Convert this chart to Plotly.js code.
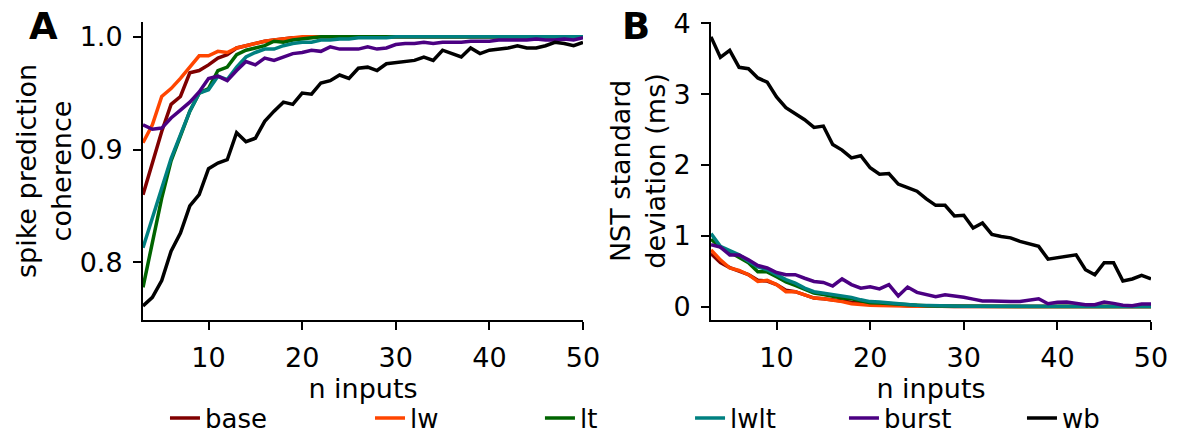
<!DOCTYPE html>
<html>
<head>
<meta charset="utf-8">
<script src="https://cdn.plot.ly/plotly-3.0.1.min.js"></script>
<style>html,body{margin:0;padding:0;background:#fff;}#chart{width:1183px;height:436px;}</style>
</head>
<body>
<div id="chart"></div>
<script>
// ---- data ----
const nInputs = [3,4,5,6,7,8,9,10,11,12,13,14,15,16,17,18,19,20,21,22,23,24,25,26,27,28,29,30,31,32,33,34,35,36,37,38,39,40,41,42,43,44,45,46,47,48,49,50];

const seriesNames = ["base","lw","lt","lwlt","burst","wb"];
const seriesColors = ["#800000","#ff4500","#006400","#008080","#4b0082","#000000"];

// Panel A: spike prediction coherence
const cohBase  = [0.860,0.887,0.916,0.940,0.947,0.968,0.970,0.975,0.981,0.984,0.990,0.992,0.994,0.996,0.997,0.998,0.999,0.999,1.0,1.0,1.0,1.0,1.0,1.0,1.0,1.0,1.0,1.0,1.0,1.0,1.0,1.0,1.0,1.0,1.0,1.0,1.0,1.0,1.0,1.0,1.0,1.0,1.0,1.0,1.0,1.0,1.0,1.0];
const cohLw    = [0.906,0.922,0.947,0.954,0.963,0.973,0.983,0.983,0.987,0.986,0.990,0.992,0.994,0.996,0.997,0.998,0.999,1.0,1.0,1.0,1.0,1.0,1.0,1.0,1.0,1.0,1.0,1.0,1.0,1.0,1.0,1.0,1.0,1.0,1.0,1.0,1.0,1.0,1.0,1.0,1.0,1.0,1.0,1.0,1.0,1.0,1.0,1.0];
const cohLt    = [0.778,0.816,0.857,0.890,0.913,0.934,0.950,0.954,0.970,0.973,0.984,0.988,0.990,0.992,0.996,0.995,0.997,0.998,0.999,1.0,1.0,1.0,1.0,1.0,1.0,1.0,1.0,1.0,1.0,1.0,1.0,1.0,1.0,1.0,1.0,1.0,1.0,1.0,1.0,1.0,1.0,1.0,1.0,1.0,1.0,1.0,1.0,1.0];
const cohLwlt  = [0.813,0.840,0.866,0.892,0.913,0.934,0.950,0.953,0.965,0.962,0.973,0.982,0.986,0.989,0.989,0.992,0.994,0.995,0.995,0.997,0.997,0.998,0.998,0.999,0.999,0.999,0.999,1.0,1.0,1.0,1.0,1.0,1.0,1.0,1.0,1.0,1.0,1.0,1.0,1.0,1.0,1.0,1.0,1.0,1.0,1.0,1.0,1.0];
const cohBurst = [0.922,0.918,0.919,0.928,0.935,0.942,0.951,0.963,0.965,0.961,0.970,0.978,0.975,0.981,0.979,0.982,0.985,0.986,0.988,0.987,0.991,0.989,0.989,0.989,0.991,0.989,0.990,0.993,0.994,0.994,0.995,0.994,0.995,0.995,0.995,0.996,0.996,0.996,0.997,0.997,0.997,0.997,0.998,0.997,0.997,0.998,0.997,0.999];
const cohWb    = [0.7615,0.769,0.784,0.810,0.826,0.850,0.860,0.883,0.888,0.891,0.915,0.907,0.910,0.925,0.934,0.942,0.940,0.950,0.949,0.959,0.961,0.966,0.963,0.972,0.973,0.970,0.976,0.977,0.978,0.979,0.982,0.979,0.988,0.985,0.982,0.990,0.985,0.988,0.989,0.990,0.992,0.990,0.990,0.992,0.995,0.994,0.992,0.995];

// Panel B: NST standard deviation (ms)
const sdBase  = [0.75,0.62,0.55,0.50,0.45,0.37,0.36,0.31,0.23,0.21,0.17,0.12,0.11,0.10,0.08,0.06,0.05,0.04,0.03,0.02,0.015,0.01,0.01,0.005,0.005,0.003,0.002,0.002,0.001,0.001,0,0,0,0,0,0,0,0,0,0,0,0,0,0,0,0,0,0];
const sdLw    = [0.80,0.66,0.545,0.51,0.45,0.355,0.37,0.31,0.21,0.21,0.165,0.12,0.11,0.095,0.07,0.04,0.025,0.02,0.015,0.01,0.008,0.005,0.004,0.003,0.002,0.002,0.001,0.001,0,0,0,0,0,0,0,0,0,0,0,0,0,0,0,0,0,0,0,0];
const sdLt    = [0.95,0.84,0.77,0.70,0.62,0.49,0.49,0.42,0.35,0.30,0.24,0.19,0.17,0.14,0.12,0.11,0.08,0.055,0.05,0.04,0.03,0.02,0.015,0.01,0.008,0.006,0.005,0.004,0.003,0.002,0.002,0.001,0,0,0,0,0,0,0,0,0,0,0,0,0,0,0,0];
const sdLwlt  = [1.03,0.85,0.79,0.73,0.64,0.56,0.52,0.45,0.38,0.33,0.26,0.21,0.19,0.165,0.14,0.13,0.095,0.07,0.065,0.05,0.04,0.03,0.02,0.015,0.01,0.01,0.008,0.006,0.005,0.004,0.003,0.002,0.002,0.001,0,0,0,0,0,0,0,0,0,0,0,0,0,0];
const sdBurst = [0.875,0.84,0.73,0.73,0.66,0.58,0.545,0.48,0.45,0.45,0.40,0.355,0.34,0.29,0.39,0.31,0.26,0.28,0.25,0.31,0.15,0.275,0.20,0.165,0.14,0.165,0.15,0.13,0.105,0.08,0.08,0.07,0.07,0.07,0.095,0.11,0.04,0.06,0.065,0.04,0.025,0.025,0.065,0.045,0.02,0.01,0.035,0.035];
const sdWb    = [3.81,3.52,3.62,3.38,3.36,3.23,3.17,2.96,2.81,2.72,2.64,2.53,2.55,2.29,2.21,2.10,2.13,1.96,1.87,1.88,1.73,1.68,1.63,1.52,1.43,1.43,1.28,1.29,1.11,1.18,1.02,0.99,0.97,0.92,0.88,0.85,0.67,0.69,0.70,0.73,0.52,0.45,0.62,0.62,0.36,0.39,0.44,0.39];

const xTicks = [10,20,30,40,50];
const yTicksA = [0.8,0.9,1.0];
const yTicksB = [0,1,2,3,4];

// ---- figure ----
const cohSeries = [cohBase,cohLw,cohLt,cohLwlt,cohBurst,cohWb];
const sdSeries  = [sdBase,sdLw,sdLt,sdLwlt,sdBurst,sdWb];
const legendIds = ["legend","legend2","legend3","legend4","legend5","legend6"];

const traces = [];
seriesNames.forEach((name,i)=>{
  traces.push({x:nInputs, y:cohSeries[i], type:"scatter", mode:"lines", name:name,
    line:{color:seriesColors[i], width:3.5}, xaxis:"x", yaxis:"y",
    legend:legendIds[i], showlegend:true, hoverinfo:"skip"});
});
seriesNames.forEach((name,i)=>{
  traces.push({x:nInputs, y:sdSeries[i], type:"scatter", mode:"lines", name:name,
    line:{color:seriesColors[i], width:3.5}, xaxis:"x2", yaxis:"y2",
    showlegend:false, hoverinfo:"skip"});
});

const FONT = "DejaVu Sans, sans-serif";
const FS = 27;
const axisBase = {showgrid:false, zeroline:false, showline:true, linecolor:"#000", linewidth:2,
  ticks:"outside", ticklen:8, tickwidth:2, tickcolor:"#000", ticklabelstandoff:5,
  tickfont:{family:FONT, size:FS, color:"#000"}, fixedrange:true};

const legendX = [0.0218,0.2252,0.3938,0.5427,0.6954,0.8720];
const layout = {
  width:1183, height:436,
  margin:{l:143, r:32, t:22, b:116, autoexpand:false},
  paper_bgcolor:"#fff", plot_bgcolor:"rgba(0,0,0,0)",
  font:{family:FONT, color:"#000"},
  xaxis:Object.assign({}, axisBase, {domain:[0,0.4365], range:[3,50], tickvals:xTicks, anchor:"y",
    title:{text:"n inputs", font:{family:FONT,size:FS,color:"#000"}, standoff:4}}),
  yaxis:Object.assign({}, axisBase, {domain:[0,1], range:[0.749,1.013], tickvals:yTicksA, tickformat:".1f", anchor:"x",
    title:{text:"spike prediction<br>coherence", font:{family:FONT,size:FS,color:"#000"}, standoff:0}}),
  xaxis2:Object.assign({}, axisBase, {domain:[0.5635,1], range:[3,50], tickvals:xTicks, anchor:"y2",
    title:{text:"n inputs", font:{family:FONT,size:FS,color:"#000"}, standoff:4}}),
  yaxis2:Object.assign({}, axisBase, {domain:[0,1], range:[-0.19,4.02], tickvals:yTicksB, anchor:"x2",
    title:{text:"NST standard<br>deviation (ms)", font:{family:FONT,size:FS,color:"#000"}, standoff:0}}),
  annotations:[
    {text:"<b>A</b>", xref:"paper", yref:"paper", x:-0.0992, y:0.985, xanchor:"center", yanchor:"middle", showarrow:false, font:{family:FONT,size:37,color:"#000"}},
    {text:"<b>B</b>", xref:"paper", yref:"paper", x:0.489, y:0.985, xanchor:"center", yanchor:"middle", showarrow:false, font:{family:FONT,size:37,color:"#000"}}
  ]
};
legendIds.forEach((id,i)=>{
  layout[id] = {x:legendX[i], y:-0.329, xanchor:"left", yanchor:"middle", orientation:"h",
    bgcolor:"rgba(0,0,0,0)", borderwidth:0, font:{family:FONT,size:26,color:"#000"}};
});

Plotly.newPlot("chart", traces, layout, {displayModeBar:false, staticPlot:true});
</script>
</body>
</html>
